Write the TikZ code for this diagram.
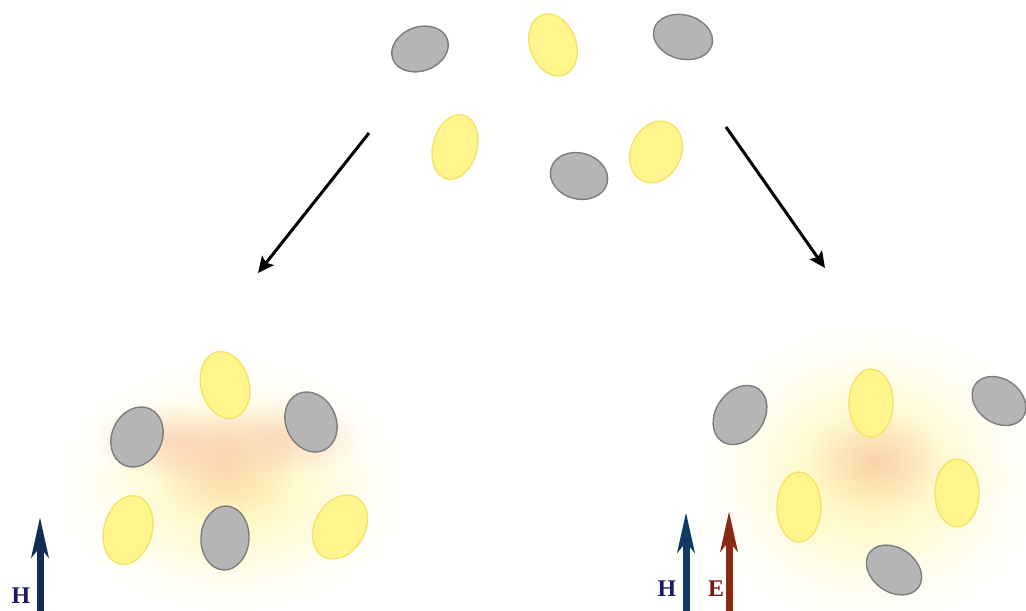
\documentclass[tikz,border=0pt]{standalone}
\usepackage{fontspec}
\setmainfont{Liberation Serif}
\usetikzlibrary{shapes.geometric,arrows.meta,fadings}

\definecolor{ballgrey}{RGB}{181,181,181}
\definecolor{ballgreyedge}{RGB}{125,125,125}
\definecolor{ballyellow}{RGB}{255,245,140}
\definecolor{ballyellowedge}{RGB}{242,228,105}
\definecolor{glowyellow}{RGB}{255,244,160}
\definecolor{glowpink}{RGB}{248,178,158}
\definecolor{hnavy}{RGB}{18,45,85}
\definecolor{hblue}{RGB}{16,58,100}
\definecolor{ered}{RGB}{138,40,20}
\definecolor{hlabel}{RGB}{25,25,100}
\definecolor{elabel}{RGB}{120,22,22}

\tikzfading[name=softglow, inner color=transparent!0, outer color=transparent!100]

\tikzset{
  greyball/.style={ellipse, draw=ballgreyedge, fill=ballgrey, line width=0.7mm, inner sep=0pt},
  yellowball/.style={ellipse, draw=ballyellowedge, fill=ballyellow, line width=0.7mm, inner sep=0pt},
  glow/.style={path fading=softglow, opacity=#1},
  bigarrow/.style={line width=1.5mm, -{Stealth[length=8mm, width=7.5mm, inset=1.5mm]}},
  fieldarrow/.style={line width=3.5mm, -{Stealth[length=20mm, width=8.5mm, inset=5mm]}},
  fieldlabel/.style={font=\bfseries\fontsize{34}{36}\selectfont, inner sep=0pt}
}

\begin{document}
\begin{tikzpicture}[x=0.5mm, y=-0.5mm]
    \useasboundingbox (0,0) rectangle (1026,610);

    % Glow (left cluster)
    \foreach \s in {1.15,1.0,0.85,0.7}
        \fill[glowyellow, glow=0.3] (232,486) ellipse ({160*\s} and {118*\s});
    \fill[glowpink, glow=0.5] (225,465) ellipse (72 and 56);
    \fill[glowpink, glow=0.45] (168,440) ellipse (78 and 38);
    \fill[glowpink, glow=0.45] (286,437) ellipse (78 and 38);

    % Glow (right cluster)
    \foreach \s in {1.15,1.0,0.85,0.7}
        \fill[glowyellow, glow=0.3] (870,475) ellipse ({160*\s} and {140*\s});
    \fill[glowpink, glow=0.55] (876,462) ellipse (68 and 52);

    % Free particles
    \node[greyball, minimum width=29mm, minimum height=22mm, rotate=20] (tg1) at (420,49) {};
    \node[yellowball, minimum width=23mm, minimum height=32mm, rotate=20] (ty1) at (553,45) {};
    \node[greyball, minimum width=30mm, minimum height=22mm, rotate=-15] (tg2) at (683,37) {};
    \node[yellowball, minimum width=22mm, minimum height=33mm, rotate=-15] (ty2) at (455,147) {};
    \node[greyball, minimum width=29mm, minimum height=23mm, rotate=-15] (tg3) at (579,176) {};
    \node[yellowball, minimum width=25mm, minimum height=32mm, rotate=-25] (ty3) at (656,152) {};

    % Arrows
    \coordinate (srcL) at (369,133);
    \coordinate (dstL) at (258,273);
    \coordinate (srcR) at (726,127);
    \coordinate (dstR) at (825,268);
    \draw[bigarrow] (srcL) -- (dstL);
    \draw[bigarrow] (srcR) -- (dstR);

    % Left cluster
    \node[yellowball, minimum width=24mm, minimum height=34mm, rotate=15] (ly1) at (225,385) {};
    \node[greyball, minimum width=25mm, minimum height=31mm, rotate=-25] (lg1) at (137,437) {};
    \node[greyball, minimum width=25mm, minimum height=31mm, rotate=25] (lg2) at (311,422) {};
    \node[yellowball, minimum width=24mm, minimum height=35mm, rotate=-15] (ly2) at (128,530) {};
    \node[greyball, minimum width=24mm, minimum height=32mm, rotate=-3] (lg3) at (225,538) {};
    \node[yellowball, minimum width=25mm, minimum height=34mm, rotate=-30] (ly3) at (340,527) {};

    % Right cluster
    \node[greyball, minimum width=24mm, minimum height=32mm, rotate=-35] (rg1) at (740,415) {};
    \node[yellowball, minimum width=22mm, minimum height=34mm] (ry1) at (871,403) {};
    \node[greyball, minimum width=29mm, minimum height=22mm, rotate=-35] (rg2) at (999,401) {};
    \node[yellowball, minimum width=22mm, minimum height=35mm] (ry2) at (799,507) {};
    \node[yellowball, minimum width=22mm, minimum height=34mm] (ry3) at (957,493) {};
    \node[greyball, minimum width=30mm, minimum height=22mm, rotate=-35] (rg3) at (894,570) {};

    % Fields
    \coordinate (hLbase) at (40,612);
    \coordinate (hLtip) at (40,517);
    \coordinate (hRbase) at (686,612);
    \coordinate (hRtip) at (686,512);
    \coordinate (eRbase) at (729,612);
    \coordinate (eRtip) at (729,511);
    \draw[fieldarrow, hnavy] (hLbase) -- (hLtip);
    \draw[fieldarrow, hblue] (hRbase) -- (hRtip);
    \draw[fieldarrow, ered] (eRbase) -- (eRtip);
    \node[fieldlabel, text=hlabel] (hL) at (21,596) {H};
    \node[fieldlabel, text=hlabel] (hR) at (667,589) {H};
    \node[fieldlabel, text=elabel] (eR) at (716,589) {E};
\end{tikzpicture}
\end{document}
